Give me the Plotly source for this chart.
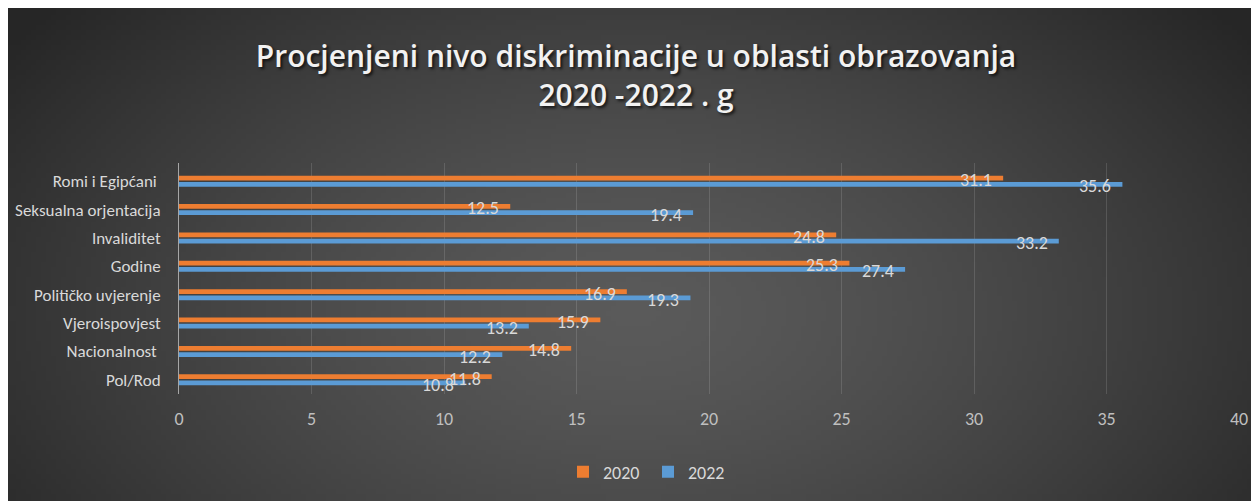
import base64, struct, zlib, math
import plotly.graph_objects as go

# ---------------- data ----------------
categories = ["Romi i Egipćani\u00a0", "Seksualna orjentacija", "Invaliditet", "Godine",
              "Političko uvjerenje", "Vjeroispovjest", "Nacionalnost\u00a0", "Pol/Rod"]
series_names = ["2020", "2022"]
values_2020 = [31.1, 12.5, 24.8, 25.3, 16.9, 15.9, 14.8, 11.8]
values_2022 = [35.6, 19.4, 33.2, 27.4, 19.3, 13.2, 12.2, 10.8]
x_ticks = [0, 5, 10, 15, 20, 25, 30, 35, 40]

title_text = "Procjenjeni nivo diskriminacije u oblasti obrazovanja<br>2020 -2022 . g"

# ---------------- layout geometry (figure sits 8px inside the page) ----------------
W, H = 1251, 493
ML, MR, MT, MB = 171, 20, 155, 107
PW, PH = W - ML - MR, H - MT - MB
BARGAP, GROUPGAP = 0.56, 0.25

FONT = "Calibri, Carlito, 'Liberation Sans Narrow', Lato, sans-serif"

# ---------------- background radial gradient as a PNG ----------------
def gradient_png(w, h):
    cx, cy, rx, ry = 0.50, 0.62, 0.62, 0.95
    rows = []
    for j in range(h):
        row = bytearray([0])
        for i in range(w):
            d = math.hypot((i / (w - 1) - cx) / rx, (j / (h - 1) - cy) / ry)
            d = min(d, 1.0)
            v = int(round(90 - 52 * d ** 1.4))
            row.append(v)
        rows.append(bytes(row))
    raw = b"".join(rows)

    def chunk(tag, data):
        c = struct.pack(">I", len(data)) + tag + data
        return c + struct.pack(">I", zlib.crc32(tag + data) & 0xffffffff)

    png = b"\x89PNG\r\n\x1a\n"
    png += chunk(b"IHDR", struct.pack(">IIBBBBB", w, h, 8, 0, 0, 0, 0))
    png += chunk(b"IDAT", zlib.compress(raw, 9))
    png += chunk(b"IEND", b"")
    return "data:image/png;base64," + base64.b64encode(png).decode()

bg_src = gradient_png(250, 100)
img_x = -ML / PW
img_y = (H - MB) / PH
img_sx = W / PW
img_sy = H / PH

# ---------------- figure ----------------
fig = go.Figure()
colors = ["#ED7D31", "#5B9BD5"]
for name, vals, col in zip(series_names, [values_2020, values_2022], colors):
    fig.add_trace(go.Bar(
        y=categories, x=vals, name=name, orientation="h",
        marker=dict(color=col, line=dict(width=0)),
        hoverinfo="x+y+name",
    ))

# data labels (inside end of each bar)
px_per_cat = PH / len(categories)
off = (1 - BARGAP) / 4 * px_per_cat
annotations = []
for k, vals in enumerate([values_2020, values_2022]):
    shift = (off if k == 0 else -off) - 2
    for cat, v in zip(categories, vals):
        annotations.append(dict(
            x=v, y=cat, xref="x", yref="y", text=f"{v:.1f}", showarrow=False,
            xanchor="right", yanchor="middle", xshift=-9, yshift=shift,
            font=dict(family=FONT, size=18, color="#d9d9d9"),
        ))

fig.update_layout(
    template="none",
    width=W, height=H,
    margin=dict(l=ML, r=MR, t=MT, b=MB, pad=0, autoexpand=False),
    paper_bgcolor="#3a3a3a",
    plot_bgcolor="rgba(0,0,0,0)",
    barmode="group", bargap=BARGAP, bargroupgap=GROUPGAP,
    title=dict(text=title_text, x=628 / W, xanchor="center", y=1 - 59 / H, yanchor="top",
               font=dict(family="'Open Sans', sans-serif", size=30, weight=600, color="#f2f2f2",
                         shadow="2px 2px 3px rgba(0,0,0,0.7)")),
    xaxis=dict(range=[0, 40], tickvals=x_ticks, ticktext=[str(t) for t in x_ticks],
               showgrid=True, gridcolor="rgba(255,255,255,0.13)", gridwidth=1,
               zeroline=False, showline=False, ticks="", ticklabelstandoff=12,
               automargin=False,
               tickfont=dict(family=FONT, size=18, color="#bfbfbf"), fixedrange=True),
    yaxis=dict(categoryorder="array", categoryarray=categories, autorange="reversed",
               showgrid=False, zeroline=False, showline=True, linecolor="#a6a6a6", linewidth=1,
               ticks="", ticklabelstandoff=14, automargin=False,
               tickfont=dict(family=FONT, size=17, color="#d9d9d9"), fixedrange=True),
    legend=dict(orientation="h", x=(640 - ML) / PW, xanchor="center",
                y=(H - MB - 464) / PH, yanchor="middle",
                font=dict(family=FONT, size=18, color="#d9d9d9"),
                bgcolor="rgba(0,0,0,0)", traceorder="normal", itemwidth=30,
                entrywidth=40, entrywidthmode="pixels"),
    annotations=annotations,
    images=[dict(source=bg_src, xref="paper", yref="paper", x=img_x, y=img_y,
                 sizex=img_sx, sizey=img_sy, xanchor="left", yanchor="top",
                 sizing="stretch", layer="below")],
    showlegend=True,
)

fig.write_html("out.html")
